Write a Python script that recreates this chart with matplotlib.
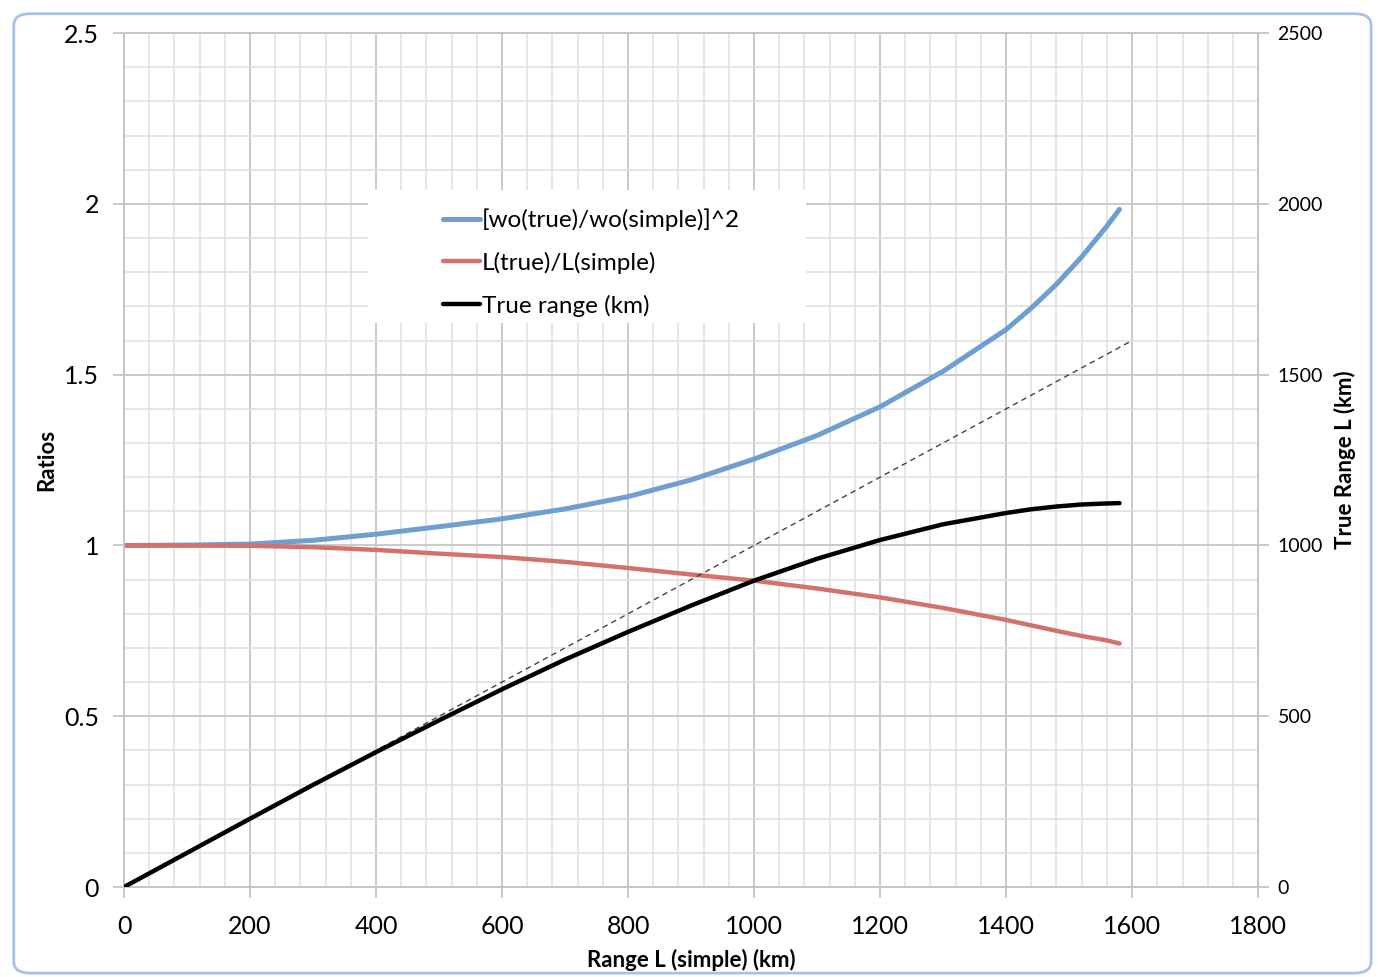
import numpy as np
import matplotlib.pyplot as plt
from matplotlib.ticker import MultipleLocator
from matplotlib.patches import FancyBboxPatch, Rectangle

# ------------------ DATOS ------------------
range_simple = [0, 100, 200, 300, 400, 500, 600, 700, 800, 900, 1000,
                1100, 1200, 1300, 1400, 1440, 1480, 1520, 1560, 1580]
wo_ratio_sq = [1.000, 1.001, 1.004, 1.015, 1.033, 1.055, 1.078, 1.107, 1.143, 1.192, 1.253,
               1.322, 1.406, 1.510, 1.632, 1.695, 1.765, 1.845, 1.935, 1.984]
l_ratio = [1.000, 1.000, 0.999, 0.995, 0.987, 0.976, 0.966, 0.952, 0.934, 0.915, 0.897,
           0.874, 0.848, 0.817, 0.782, 0.766, 0.750, 0.735, 0.722, 0.713]
true_range = [0, 100, 200, 299, 395, 488, 579, 666, 747, 824, 897,
              961, 1016, 1062, 1095, 1106, 1114, 1120, 1123, 1124]
ref_x = [0, 1600]
ref_y = [0, 1600]

blue = '#6f9fd0'
red = '#d3716c'
grid_major = '#c6c6c6'
grid_minor = '#dedede'

plt.rcParams['font.family'] = ['Lato', 'DejaVu Sans']

fig = plt.figure(figsize=(13.78, 9.77), dpi=100)
ax = fig.add_axes([0.090, 0.0921, 0.823, 0.874])
ax2 = ax.twinx()

# marco tipo hoja de calculo
frame = FancyBboxPatch((0.010, 0.004), 0.985, 0.982, boxstyle='round,pad=0,rounding_size=0.012',
                       transform=fig.transFigure, fill=False, edgecolor='#a8c2e6', linewidth=2.0,
                       zorder=-10)
fig.patches.append(frame)

# Eje izquierdo: ratios
ax.plot(range_simple, wo_ratio_sq, color=blue, lw=3.6, solid_capstyle='round',
        label='[wo(true)/wo(simple)]^2', zorder=3)
ax.plot(range_simple, l_ratio, color=red, lw=3.2, solid_capstyle='round',
        label='L(true)/L(simple)', zorder=3)
ax.set_xlim(0, 1800)
ax.set_ylim(0, 2.5)
ax.xaxis.set_major_locator(MultipleLocator(200))
ax.xaxis.set_minor_locator(MultipleLocator(40))
ax.yaxis.set_major_locator(MultipleLocator(0.5))
ax.yaxis.set_minor_locator(MultipleLocator(0.1))
ax.set_yticks([0, 0.5, 1, 1.5, 2, 2.5])
ax.set_yticklabels(['0', '0.5', '1', '1.5', '2', '2.5'])
ax.grid(True, which='major', color=grid_major, lw=1.3, zorder=0)
ax.grid(True, which='minor', color=grid_minor, lw=1.1, zorder=0)
ax.set_axisbelow(True)
ax.tick_params(axis='both', which='major', length=8, color=grid_major, width=1.3,
               labelsize=18, direction='out')
ax.tick_params(axis='y', which='major', pad=10)
ax.tick_params(axis='x', which='major', pad=12)
ax.tick_params(which='minor', length=0)
ax.set_xlabel('Range L (simple) (km)', fontsize=16, fontweight='bold', labelpad=8)
ax.set_ylabel('Ratios', fontsize=16, fontweight='bold', labelpad=5)

# Eje derecho: alcance verdadero
ax2.plot(range_simple, true_range, color='black', lw=3.2, solid_capstyle='round',
         label='True range (km)', zorder=3)
ax2.plot(ref_x, ref_y, color='#444444', lw=1.0, ls=(0, (4, 3)), zorder=2)
ax2.set_ylim(0, 2500)
ax2.yaxis.set_major_locator(MultipleLocator(500))
ax2.tick_params(axis='y', which='major', length=8, color=grid_major, width=1.3,
                labelsize=14, pad=6)
ax2.set_ylabel('True Range L (km)', fontsize=16, fontweight='bold', labelpad=8)

for a in (ax, ax2):
    for s in a.spines.values():
        s.set_color(grid_major)
        s.set_linewidth(1.3)

# caja blanca de la leyenda
ax2.add_patch(Rectangle((0.215, 0.660), 0.386, 0.156, transform=ax2.transAxes,
                        facecolor='white', edgecolor='none', zorder=4))

h1, l1 = ax.get_legend_handles_labels()
h2, l2 = ax2.get_legend_handles_labels()
leg = ax2.legend(h1 + h2, l1 + l2, loc='upper left', bbox_to_anchor=(0.258, 0.826),
                 fontsize=17.5, frameon=False, handlelength=1.5, handletextpad=0.1,
                 labelspacing=0.85, borderpad=0.6)
leg.set_zorder(5)

fig.savefig('out.png', dpi=100)
